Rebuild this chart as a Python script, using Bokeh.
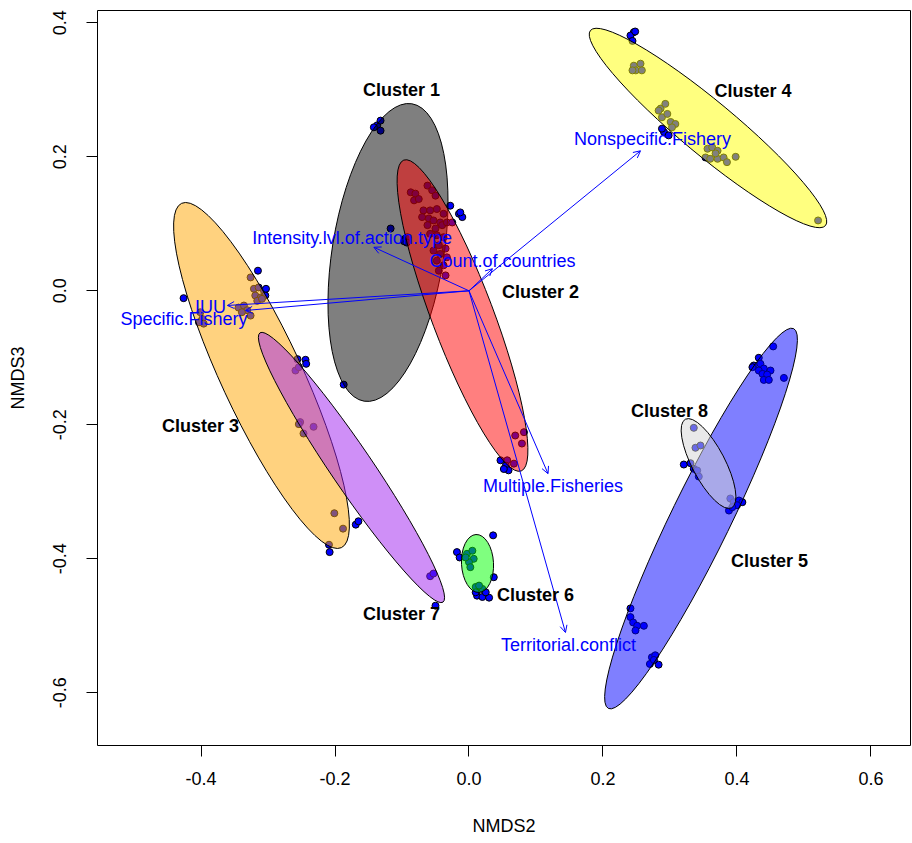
import numpy as np
from bokeh.plotting import figure
from bokeh.models import (ColumnDataSource, Range1d, FixedTicker,
                          PrintfTickFormatter, Arrow, OpenHead)
from bokeh.core.properties import value
from bokeh.embed import file_html
from bokeh.resources import INLINE

# ---------------- site scores (NMDS2, NMDS3) by cluster ----------------
c1_x = [-0.137, -0.132, -0.142, -0.132, -0.117, -0.095, -0.092, -0.097, -0.093, -0.187]
c1_y = [0.247, 0.254, 0.244, 0.239, 0.093, 0.078, 0.080, 0.074, 0.072, -0.140]

c2_x = [-0.087, -0.080, -0.062, -0.055, -0.082, -0.075, -0.050, -0.068, -0.058, -0.048,
        -0.038, -0.070, -0.060, -0.053, -0.043, -0.062, -0.050, -0.040, -0.033, -0.058,
        -0.048, -0.038, -0.045, -0.035, -0.053, -0.043, -0.033, -0.048, -0.038, -0.045,
        -0.035, -0.025, -0.028, -0.015, -0.010, -0.013, 0.069, 0.082, 0.079, 0.057,
        0.067, 0.047, 0.055, 0.059, 0.052]
c2_y = [0.147, 0.145, 0.157, 0.150, 0.135, 0.137, 0.142, 0.120, 0.120, 0.122,
        0.115, 0.110, 0.108, 0.105, 0.102, 0.098, 0.093, 0.098, 0.102, 0.085,
        0.083, 0.080, 0.068, 0.063, 0.060, 0.055, 0.050, 0.045, 0.038, 0.030,
        0.023, 0.102, 0.127, 0.115, 0.110, 0.117, -0.216, -0.211, -0.228, -0.253,
        -0.258, -0.253, -0.261, -0.268, -0.266]

c3_x = [-0.315, -0.426, -0.326, -0.321, -0.314, -0.306, -0.319, -0.311, -0.304, -0.316,
        -0.309, -0.303, -0.344, -0.336, -0.331, -0.326, -0.339, -0.401, -0.398, -0.403,
        -0.396, -0.201, -0.188, -0.209, -0.208, -0.256, -0.244, -0.243]
c3_y = [0.030, -0.011, 0.020, 0.003, 0.005, 0.000, -0.007, -0.010, -0.007, -0.015,
        -0.012, 0.003, -0.025, -0.022, -0.029, -0.037, -0.032, -0.032, -0.042, -0.047,
        -0.049, -0.332, -0.355, -0.379, -0.390, -0.102, -0.103, -0.109]

c4_x = [0.246, 0.241, 0.248, 0.244, 0.246, 0.256, 0.249, 0.258, 0.244, 0.286,
        0.293, 0.288, 0.296, 0.283, 0.301, 0.308, 0.303, 0.291, 0.298, 0.288,
        0.356, 0.363, 0.371, 0.353, 0.360, 0.371, 0.380, 0.385, 0.398, 0.368, 0.521]
c4_y = [0.386, 0.381, 0.387, 0.373, 0.336, 0.339, 0.329, 0.329, 0.329, 0.272,
        0.279, 0.259, 0.264, 0.269, 0.252, 0.249, 0.244, 0.237, 0.232, 0.242,
        0.212, 0.214, 0.209, 0.199, 0.197, 0.197, 0.199, 0.192, 0.200, 0.205, 0.105]

c5_x = [0.454, 0.4325, 0.425, 0.423, 0.435, 0.440, 0.450, 0.4325, 0.438, 0.445,
        0.440, 0.4475, 0.470, 0.390, 0.395, 0.403, 0.408, 0.400, 0.388, 0.393,
        0.241, 0.241, 0.245, 0.251, 0.261, 0.2485, 0.273, 0.278, 0.270, 0.283, 0.276]
c5_y = [-0.083, -0.100, -0.1115, -0.114, -0.109, -0.116, -0.119, -0.119, -0.124, -0.125,
        -0.133, -0.133, -0.130, -0.310, -0.3155, -0.313, -0.3155, -0.320, -0.328, -0.323,
        -0.474, -0.487, -0.495, -0.500, -0.500, -0.507, -0.547, -0.544, -0.557, -0.558, -0.551]

c6_x = [0.036, -0.018, -0.014, -0.003, 0.005, 0.007, 0.000, 0.002, -0.005,
        0.037, 0.010, 0.020, 0.015, 0.012, 0.020, 0.030, 0.025, 0.010]
c6_y = [-0.365, -0.390, -0.398, -0.3925, -0.388, -0.400, -0.405, -0.4125, -0.398,
        -0.4275, -0.442, -0.445, -0.440, -0.455, -0.457, -0.458, -0.450, -0.450]

c7_x = [-0.259, -0.254, -0.252, -0.232, -0.247, -0.254, -0.169, -0.165, -0.058, -0.053, -0.050]
c7_y = [-0.119, -0.114, -0.196, -0.203, -0.213, -0.199, -0.349, -0.344, -0.426, -0.422, -0.470]

c8_x = [0.3355, 0.338, 0.3455, 0.3206, 0.3306, 0.3355, 0.3406, 0.343]
c8_y = [-0.2045, -0.2343, -0.2309, -0.2593, -0.2573, -0.2657, -0.2682, -0.2772]

# ---------------- cluster ellipses (centre, semi-axes, angle in degrees) -------------
clusters = ["Cluster 1", "Cluster 2", "Cluster 3", "Cluster 4",
            "Cluster 5", "Cluster 6", "Cluster 7", "Cluster 8"]
ell_cx = [-0.1209, -0.0097, -0.3097, 0.3567, 0.3463, 0.0127, -0.1754, 0.3575]
ell_cy = [0.0572, -0.0369, -0.1264, 0.2430, -0.3399, -0.4070, -0.2637, -0.2578]
ell_a = [0.2248, 0.2480, 0.2833, 0.2280, 0.3154, 0.0433, 0.2430, 0.0746]
ell_b = [0.0833, 0.0460, 0.0603, 0.0400, 0.0443, 0.0239, 0.0310, 0.0246]
ell_angle = [80.9, 110.7, 114.9, -39.7, 64.0, 93.0, 124.2, 117.6]
ell_fill = ["black", "red", "orange", "yellow", "blue", "#00FF00", "#A020F0", "lightgray"]

# cluster label positions
clab_x = [-0.1007, 0.1067, -0.4007, 0.4239, 0.4485, 0.0993, -0.1007, 0.2993]
clab_y = [0.2990, -0.0025, -0.2025, 0.2975, -0.4040, -0.4533, -0.4831, -0.1787]

# ---------------- environmental vectors (envfit) ----------------
vec_names = ["Nonspecific.Fishery", "Count.of.countries", "Intensity.lvl.of.action.type",
             "IUU", "Specific.Fishery", "Multiple.Fisheries", "Territorial.conflict"]
vec_x = [0.256, 0.035, -0.142, -0.3607, -0.3336, 0.118, 0.144]
vec_y = [0.209, 0.033, 0.065, -0.0219, -0.0294, -0.273, -0.510]
vlab_x = [0.2739, 0.0500, -0.1746, -0.3860, -0.4254, 0.1254, 0.1485]
vlab_y = [0.2273, 0.0450, 0.0794, -0.0240, -0.0414, -0.2906, -0.5290]

x_ticks = [-0.4, -0.2, 0.0, 0.2, 0.4, 0.6]
y_ticks = [-0.6, -0.4, -0.2, 0.0, 0.2, 0.4]

FONT = "Liberation Sans"

p = figure(width=912, height=843, output_backend="svg", toolbar_location=None,
           x_range=Range1d(-0.55448, 0.65896), y_range=Range1d(-0.67866, 0.41836),
           min_border_left=97, min_border_right=2, min_border_top=10, min_border_bottom=98)
p.background_fill_color = "white"
p.border_fill_color = "white"
p.outline_line_color = "black"
p.outline_line_width = 1
p.grid.visible = False

for ax, ticks in ((p.xaxis, x_ticks), (p.yaxis, y_ticks)):
    ax.ticker = FixedTicker(ticks=ticks, minor_ticks=[])
    ax.formatter = PrintfTickFormatter(format="%.1f")
    ax.axis_line_color = None
    ax.major_tick_in = 0
    ax.major_tick_out = 11
    ax.minor_tick_out = 0
    ax.major_tick_line_color = "black"
    ax.major_label_text_font = FONT
    ax.major_label_text_font_size = "18px"
    ax.major_label_text_color = "black"
    ax.axis_label_text_font = FONT
    ax.axis_label_text_font_size = "18px"
    ax.axis_label_text_font_style = "normal"
    ax.axis_label_text_color = "black"

p.xaxis.axis_label = "NMDS2"
p.yaxis.axis_label = "NMDS3"
p.xaxis.major_label_standoff = 15
p.yaxis.major_label_standoff = 20
p.yaxis.major_label_orientation = "vertical"
p.xaxis.axis_label_standoff = 28
p.yaxis.axis_label_standoff = 23

# sites
all_x = c1_x + c2_x + c3_x + c4_x + c5_x + c6_x + c7_x + c8_x
all_y = c1_y + c2_y + c3_y + c4_y + c5_y + c6_y + c7_y + c8_y
p.scatter(x=all_x, y=all_y, size=7, marker="circle", fill_color="blue",
          line_color="black", line_width=1)

# ellipses (semi-transparent, drawn over the sites)
ell_src = ColumnDataSource(dict(
    x=ell_cx, y=ell_cy,
    w=[2 * a for a in ell_a], h=[2 * b for b in ell_b],
    ang=ell_angle, fill=ell_fill))
p.ellipse(x="x", y="y", width="w", height="h", angle="ang", angle_units="deg",
          fill_color="fill", fill_alpha=0.5, line_color="black", line_width=1,
          source=ell_src)

# envfit arrows
vec_src = ColumnDataSource(dict(x0=[0.0] * len(vec_x), y0=[0.0] * len(vec_y),
                                x1=vec_x, y1=vec_y))
p.add_layout(Arrow(end=OpenHead(size=7, line_color="blue", line_width=1),
                   x_start="x0", y_start="y0", x_end="x1", y_end="y1",
                   source=vec_src, line_color="blue", line_width=1))

p.text(x=vlab_x, y=vlab_y, text=vec_names, text_align="center", text_baseline="middle",
       text_font=value(FONT), text_font_size="18px", text_color="blue", level="overlay")

p.text(x=clab_x, y=clab_y, text=clusters, text_align="center", text_baseline="middle",
       text_font=value(FONT), text_font_size="18px", text_font_style="bold",
       text_color="black", level="overlay")

open("out.html", "w").write(file_html(p, INLINE))
